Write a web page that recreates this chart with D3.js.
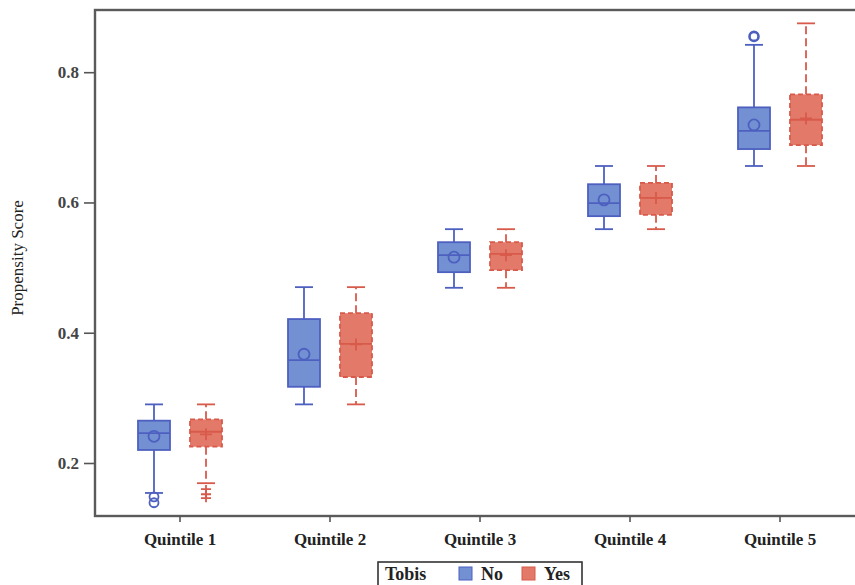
<!DOCTYPE html>
<html><head><meta charset="utf-8">
<script src="https://cdn.jsdelivr.net/npm/d3@7"></script>
<style>body{margin:0;background:#fff;} svg{display:block;} text{font-family:"Liberation Serif","Times New Roman","DejaVu Serif",serif;}</style>
</head><body>
<svg id="c" width="855" height="585"></svg>
<script>
const categories = ["Quintile 1","Quintile 2","Quintile 3","Quintile 4","Quintile 5"];
const groups = ["No","Yes"];
const yTicks = [0.2,0.4,0.6,0.8];

const noMin    = [0.154,0.290,0.469,0.559,0.656];
const noQ1     = [0.220,0.317,0.493,0.579,0.682];
const noMedian = [0.246,0.358,0.519,0.599,0.710];
const noQ3     = [0.265,0.421,0.539,0.628,0.746];
const noMax    = [0.290,0.470,0.559,0.656,0.842];
const noMean   = [0.241,0.367,0.516,0.604,0.719];
const noOutliers = [[0.148,0.139],[],[],[],[0.855]];

const yesMin    = [0.169,0.290,0.469,0.559,0.656];
const yesQ1     = [0.225,0.332,0.496,0.581,0.688];
const yesMedian = [0.248,0.383,0.521,0.607,0.727];
const yesQ3     = [0.267,0.430,0.539,0.630,0.766];
const yesMax    = [0.290,0.470,0.559,0.656,0.875];
const yesMean   = [0.244,0.382,0.519,0.607,0.729];
const yesOutliers = [[0.160,0.152,0.146],[],[],[],[]];

(function(){
const svg = d3.select("#c");
const mLeft = 95, mTop = 10, mBottom = 516, mRight = 858;
const FONT = '"Liberation Serif","Times New Roman","DejaVu Serif",serif';

const x = d3.scaleBand().domain(categories).range([105, 855]).padding(0);
const xg = d3.scaleBand().domain(groups).range([0, x.bandwidth()]).paddingInner(0.38).paddingOuter(0.632);
const y = d3.scaleLinear().domain([0.2, 0.8]).range([463, 72.2]);

const styles = {
  No:  {fill:"#7390d2", stroke:"#4d60c0", dash:null},
  Yes: {fill:"#e37a69", stroke:"#d85a4b", dash:"5,3"}
};

svg.append("rect").attr("x",mLeft).attr("y",mTop).attr("width",mRight-mLeft).attr("height",mBottom-mTop)
  .attr("fill","none").attr("stroke","#5a5a5a").attr("stroke-width",2.4);

const yAxis = d3.axisLeft(y).tickValues(yTicks).tickFormat(d3.format(".1f")).tickSize(11).tickPadding(5);
const ya = svg.append("g").attr("transform",`translate(${mLeft},0)`).call(yAxis)
  .attr("font-family",FONT).attr("font-size",17);
ya.select(".domain").remove();
ya.selectAll(".tick line").attr("stroke","#555").attr("stroke-width",1.6);
ya.selectAll(".tick text").style("font-family",FONT).attr("font-weight","bold")
  .attr("font-size",17).attr("fill","#444");

const xAxis = d3.axisBottom(x).tickSize(6).tickPadding(11);
const xa = svg.append("g").attr("transform",`translate(0,${mBottom})`).call(xAxis)
  .attr("font-family",FONT).attr("font-size",17);
xa.select(".domain").remove();
xa.selectAll(".tick line").attr("stroke","#555").attr("stroke-width",1.6);
xa.selectAll(".tick text").style("font-family",FONT).attr("font-weight","bold")
  .attr("font-size",17).attr("fill","#222");

svg.append("text").attr("transform","translate(23,258) rotate(-90)").attr("text-anchor","middle")
  .style("font-family",FONT).attr("font-size",17).attr("fill","#222").text("Propensity Score");

const data = {
  No: {min:noMin,q1:noQ1,med:noMedian,q3:noQ3,max:noMax,mean:noMean,out:noOutliers},
  Yes:{min:yesMin,q1:yesQ1,med:yesMedian,q3:yesQ3,max:yesMax,mean:yesMean,out:yesOutliers}
};

const bw = 32, capW = 18;
groups.forEach(g => {
  const s = styles[g], d = data[g];
  categories.forEach((c,i) => {
    const cx = x(c) + xg(g) + xg.bandwidth()/2;
    const gg = svg.append("g");
    gg.append("line").attr("x1",cx).attr("x2",cx).attr("y1",y(d.q3[i])).attr("y2",y(d.max[i]))
      .attr("stroke",s.stroke).attr("stroke-width",1.8).attr("stroke-dasharray",s.dash ? "8,4" : null);
    gg.append("line").attr("x1",cx).attr("x2",cx).attr("y1",y(d.q1[i])).attr("y2",y(d.min[i]))
      .attr("stroke",s.stroke).attr("stroke-width",1.8).attr("stroke-dasharray",s.dash ? "8,4" : null);
    [d.max[i], d.min[i]].forEach(v => {
      gg.append("line").attr("x1",cx-capW/2).attr("x2",cx+capW/2).attr("y1",y(v)).attr("y2",y(v))
        .attr("stroke",s.stroke).attr("stroke-width",1.8);
    });
    gg.append("rect").attr("x",cx-bw/2).attr("y",y(d.q3[i])).attr("width",bw)
      .attr("height",y(d.q1[i])-y(d.q3[i])).attr("fill",s.fill).attr("stroke",s.stroke)
      .attr("stroke-width",1.8).attr("stroke-dasharray",s.dash);
    gg.append("line").attr("x1",cx-bw/2).attr("x2",cx+bw/2).attr("y1",y(d.med[i])).attr("y2",y(d.med[i]))
      .attr("stroke",s.stroke).attr("stroke-width",1.8);
    if (g === "No") {
      gg.append("circle").attr("cx",cx).attr("cy",y(d.mean[i])).attr("r",5.5)
        .attr("fill","none").attr("stroke",s.stroke).attr("stroke-width",1.8);
    } else {
      const m = y(d.mean[i]);
      gg.append("path").attr("d",`M${cx-6},${m}H${cx+6}M${cx},${m-6}V${m+6}`)
        .attr("stroke",s.stroke).attr("stroke-width",1.8);
    }
    d.out[i].forEach(v => {
      if (g === "No") {
        gg.append("circle").attr("cx",cx).attr("cy",y(v)).attr("r",4.5)
          .attr("fill","none").attr("stroke",s.stroke).attr("stroke-width",i===4?2.6:1.8);
      } else {
        const m = y(v);
        gg.append("path").attr("d",`M${cx-5},${m}H${cx+5}M${cx},${m-4}V${m+4}`)
          .attr("stroke",s.stroke).attr("stroke-width",1.8);
      }
    });
  });
});

const lg = svg.append("g");
lg.append("rect").attr("x",378).attr("y",562).attr("width",204).attr("height",24)
  .attr("fill","#fff").attr("stroke","#333").attr("stroke-width",1.6);
const lt = (xx, t) => lg.append("text").attr("x",xx).attr("y",580).style("font-family",FONT)
  .attr("font-weight","bold").attr("font-size",18).attr("fill","#222").text(t);
lt(385,"Tobis");
lg.append("rect").attr("x",459).attr("y",567).attr("width",13).attr("height",13)
  .attr("fill",styles.No.fill).attr("stroke",styles.No.stroke).attr("stroke-width",1);
lt(481,"No");
lg.append("rect").attr("x",522).attr("y",567).attr("width",13).attr("height",13)
  .attr("fill",styles.Yes.fill).attr("stroke",styles.Yes.stroke).attr("stroke-width",1);
lt(544,"Yes");
})();
</script>
</body></html>
